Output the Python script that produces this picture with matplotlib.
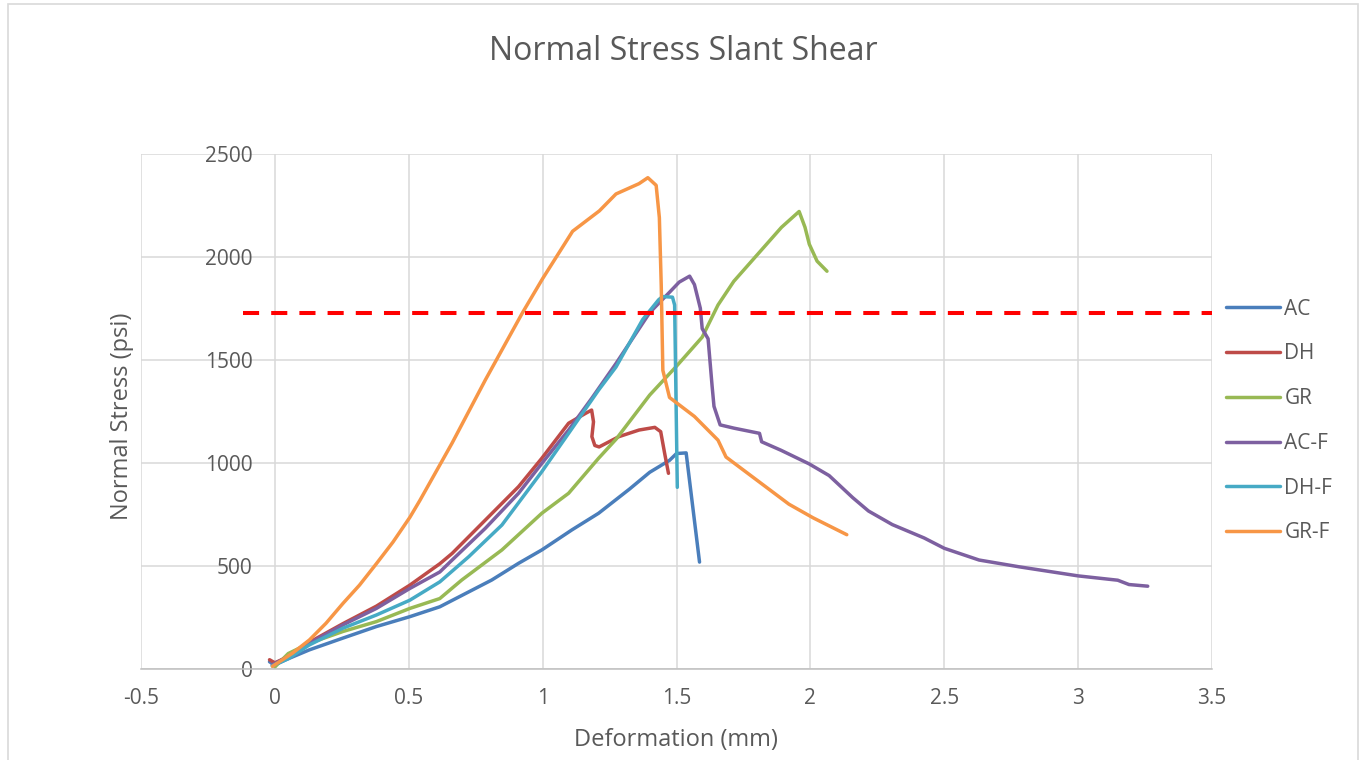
import numpy as np
import matplotlib.pyplot as plt
from matplotlib.patches import Rectangle

plt.rcParams['font.family'] = ['Open Sans', 'DejaVu Sans']

# deformation (mm) / normal stress (psi) readings per specimen
ac_x = [-0.02, 0.0, 0.041, 0.129, 0.254, 0.379, 0.504, 0.616, 0.81, 0.91, 0.997,
        1.109, 1.209, 1.324, 1.4, 1.474, 1.5, 1.536, 1.586]
ac_y = [35, 20, 45, 93, 150, 206, 254, 302, 432, 513, 578,
        675, 756, 873, 955, 1013, 1046, 1049, 519]

dh_x = [-0.02, 0.0, 0.05, 0.129, 0.254, 0.379, 0.504, 0.616, 0.662, 0.786, 0.91,
        0.997, 1.097, 1.159, 1.183, 1.19, 1.184, 1.195, 1.211, 1.285, 1.36,
        1.419, 1.441, 1.456, 1.47]
dh_y = [45, 30, 60, 130, 220, 305, 407, 511, 561, 723, 885,
        1023, 1193, 1240, 1257, 1200, 1128, 1085, 1078, 1128, 1160,
        1173, 1152, 1045, 950]

gr_x = [0.0, 0.05, 0.129, 0.254, 0.379, 0.504, 0.616, 0.698, 0.848, 0.997, 1.097,
        1.209, 1.274, 1.4, 1.5, 1.596, 1.655, 1.714, 1.803, 1.892, 1.958, 1.98,
        1.996, 2.025, 2.062]
gr_y = [10, 75, 125, 182, 230, 294, 342, 432, 578, 756, 853,
        1023, 1115, 1330, 1470, 1611, 1767, 1882, 2013, 2144, 2221, 2144,
        2062, 1980, 1931]

acf_x = [-0.01, 0.05, 0.129, 0.254, 0.379, 0.504, 0.616, 0.662, 0.786, 0.91, 0.997,
         1.097, 1.184, 1.274, 1.4, 1.474, 1.51, 1.549, 1.567, 1.589, 1.596, 1.618,
         1.633, 1.64, 1.663, 1.715, 1.81, 1.818, 1.89, 1.995, 2.07, 2.158, 2.217,
         2.306, 2.425, 2.5, 2.63, 2.78, 3.0, 3.148, 3.19, 3.26]
acf_y = [20, 60, 125, 214, 294, 391, 471, 529, 683, 853, 998,
         1160, 1315, 1483, 1730, 1829, 1878, 1907, 1866, 1751, 1652, 1603,
         1373, 1275, 1185, 1169, 1144, 1103, 1062, 996, 939, 832, 767,
         701, 636, 586, 529, 496, 452, 431, 410, 402]

dhf_x = [-0.01, 0.05, 0.129, 0.254, 0.379, 0.504, 0.616, 0.724, 0.848, 0.997, 1.097,
         1.209, 1.274, 1.374, 1.433, 1.448, 1.485, 1.493, 1.503]
dhf_y = [15, 50, 117, 198, 262, 334, 423, 545, 699, 958, 1144,
         1354, 1466, 1697, 1792, 1808, 1805, 1767, 882]

grf_x = [-0.009, 0.066, 0.129, 0.191, 0.254, 0.316, 0.379, 0.441, 0.504, 0.541, 0.662,
         0.786, 0.925, 1.0, 1.112, 1.212, 1.274, 1.36, 1.393, 1.424, 1.436, 1.443,
         1.449, 1.474, 1.567, 1.655, 1.685, 1.803, 1.92, 2.01, 2.136]
grf_y = [13, 77, 141, 222, 318, 407, 511, 616, 736, 817, 1097,
         1403, 1730, 1895, 2125, 2224, 2306, 2356, 2385, 2348, 2191, 1862,
         1450, 1318, 1226, 1111, 1029, 914, 800, 734, 652]

threshold = 1730
x_ticks = [-0.5, 0, 0.5, 1, 1.5, 2, 2.5, 3, 3.5]
y_ticks = [0, 500, 1000, 1500, 2000, 2500]

series = [
    ("AC", ac_x, ac_y, "#4a7ebb"),
    ("DH", dh_x, dh_y, "#be4b48"),
    ("GR", gr_x, gr_y, "#98b954"),
    ("AC-F", acf_x, acf_y, "#7d60a0"),
    ("DH-F", dhf_x, dhf_y, "#46aac5"),
    ("GR-F", grf_x, grf_y, "#f79646"),
]

W, H = 1365, 760
fig = plt.figure(figsize=(W / 100, H / 100), dpi=100)
ax = fig.add_axes([141 / W, 1 - 669 / H, (1212 - 141) / W, (669 - 154) / H])

for name, xs, ys, c in series:
    ax.plot(xs, ys, color=c, lw=2.5, label=name,
            solid_capstyle='round', solid_joinstyle='round')

ax.plot([-0.12, 3.5], [threshold, threshold], color='red', lw=2.9, dashes=(4, 3))

ax.set_xlim(-0.5, 3.5)
ax.set_ylim(0, 2500)
ax.set_xticks(x_ticks)
ax.set_xticklabels(['{:g}'.format(v) for v in x_ticks])
ax.set_yticks(y_ticks)
ax.grid(color='#d9d9d9', lw=1.1)
ax.set_axisbelow(True)
for s in ['top', 'right', 'left']:
    ax.spines[s].set_visible(False)
ax.spines['left'].set_position(('data', 0))
ax.spines['bottom'].set_color('#bfbfbf')
ax.spines['bottom'].set_linewidth(1.1)
ax.tick_params(length=0, labelsize=15, labelcolor='#595959')
ax.tick_params(axis='x', pad=14)
ax.tick_params(axis='y', pad=16)

ax.legend(loc='center left', bbox_to_anchor=(1226 / W, 1 - 421 / H),
          bbox_transform=fig.transFigure, frameon=False, borderpad=0,
          borderaxespad=0, handlelength=2.6, handletextpad=0.2,
          labelspacing=1.14, fontsize=15, labelcolor='#595959')

fig.text(683 / W, 1 - 51 / H, 'Normal Stress Slant Shear', ha='center', va='center',
         fontsize=23, color='#595959')
fig.text(676 / W, 1 - 740 / H, 'Deformation (mm)', ha='center', va='center',
         fontsize=17, color='#595959')
fig.text(122 / W, 1 - 416 / H, 'Normal Stress (psi)', ha='center', va='center',
         rotation=90, fontsize=17, color='#595959')

fig.patches.append(Rectangle((8 / W, -0.02), (1358 - 8) / W, 1.02 - 4 / H,
                             transform=fig.transFigure, fill=False,
                             edgecolor='#d9d9d9', lw=1.2))

fig.savefig('out.png', dpi=100)
